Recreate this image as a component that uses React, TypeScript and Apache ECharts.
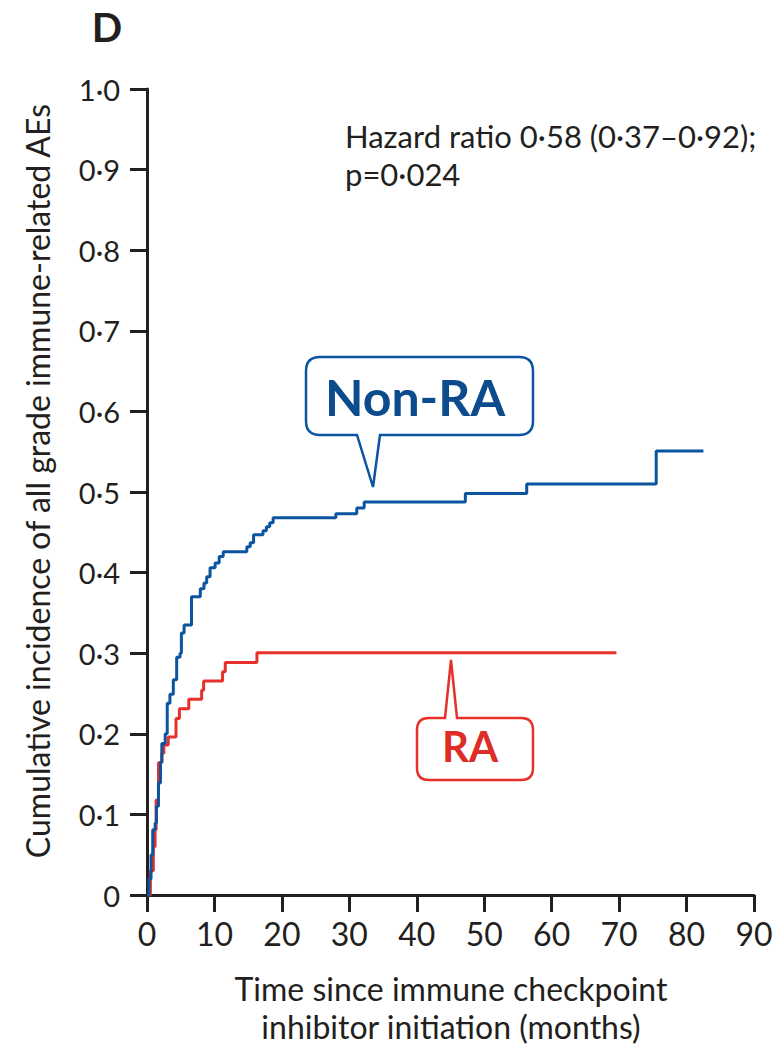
import React, { useEffect, useRef } from "react";
import * as echarts from "echarts";

const blueTimes = [0, 0.3, 0.6, 0.85, 1.2, 1.4, 1.7, 2.0, 2.2, 2.7, 3.0, 3.4, 3.9, 4.4, 4.9, 5.1, 5.5, 6.6, 7.9, 8.45, 8.85, 9.35, 10.1, 10.7, 11.3, 14.8, 15.3, 15.8, 17.2, 17.7, 18.2, 18.7, 28.0, 31.1, 32.2, 47.2, 56.3, 75.5, 82.5];
const blueValues = [0, 0.02, 0.05, 0.081, 0.089, 0.11, 0.139, 0.165, 0.188, 0.2, 0.238, 0.249, 0.267, 0.295, 0.3, 0.325, 0.335, 0.37, 0.38, 0.387, 0.395, 0.406, 0.412, 0.42, 0.426, 0.432, 0.437, 0.447, 0.452, 0.457, 0.462, 0.468, 0.473, 0.48, 0.4876, 0.498, 0.51, 0.551, 0.551];

const redTimes = [0, 0.5, 0.94, 1.2, 1.35, 1.7, 2.2, 2.5, 3.15, 4.3, 4.8, 6.2, 8.1, 8.4, 11.2, 11.6, 16.3, 69.6];
const redValues = [0, 0.03, 0.06, 0.081, 0.118, 0.164, 0.176, 0.186, 0.196, 0.219, 0.231, 0.243, 0.254, 0.2655, 0.277, 0.2886, 0.3006, 0.3006];

const yTickLabels = ["0", "0·1", "0·2", "0·3", "0·4", "0·5", "0·6", "0·7", "0·8", "0·9", "1·0"];
const xTickLabels = ["0", "10", "20", "30", "40", "50", "60", "70", "80", "90"];

const xTitleLines = ["Time since immune checkpoint", "inhibitor initiation (months)"];
const yTitle = "Cumulative incidence of all grade immune-related AEs";
const statLines = ["Hazard ratio 0·58 (0·37–0·92);", "p=0·024"];

const FONT = "Lato, 'Noto Sans', sans-serif";
const AXIS_COLOR = "#231f20";
const BLUE = "#0b55a0";
const RED = "#e8302a";

echarts.graphic.registerShape(
  "calloutNonRA",
  echarts.graphic.extendPath(
    "M 320 357 L 519 357 Q 533 357 533 371 L 533 421 Q 533 435 519 435 L 380 435 L 373 487 L 357 435 L 320 435 Q 306 435 306 421 L 306 371 Q 306 357 320 357 Z",
    {}
  )
);
echarts.graphic.registerShape(
  "calloutRA",
  echarts.graphic.extendPath(
    "M 429 718 L 445 718 L 451 660 L 457 718 L 521 718 Q 533 718 533 730 L 533 768 Q 533 780 521 780 L 429 780 Q 417 780 417 768 L 417 730 Q 417 718 429 718 Z",
    {}
  )
);

function txt(text: string, x: number, y: number, font: string, fill: string, align: string, extra: any = {}) {
  return {
    type: "text",
    x,
    y,
    ...extra,
    style: {
      text,
      font,
      fill,
      textAlign: align,
      textVerticalAlign: "middle",
      align,
      verticalAlign: "middle",
    },
  };
}

export default function App() {
  const ref = useRef<HTMLDivElement>(null);
  useEffect(() => {
    document.body.style.margin = "0";
    const chart = echarts.init(ref.current!, undefined, { renderer: "svg" });
    const blueData = blueTimes.map((t, i) => [t, blueValues[i]]);
    const redData = redTimes.map((t, i) => [t, redValues[i]]);
    chart.setOption({
      animation: false,
      backgroundColor: "#ffffff",
      grid: { left: 147, top: 89, width: 607, height: 806, containLabel: false },
      xAxis: {
        type: "value",
        min: 0,
        max: 90,
        interval: 10,
        axisLine: { show: true, lineStyle: { color: AXIS_COLOR, width: 3 } },
        axisTick: { show: true, length: 17, lineStyle: { color: AXIS_COLOR, width: 3 } },
        axisLabel: {
          margin: 22,
          fontFamily: FONT,
          fontSize: 32,
          color: AXIS_COLOR,
          formatter: (v: number) => xTickLabels[Math.round(v / 10)] ?? "",
        },
        splitLine: { show: false },
      },
      yAxis: {
        type: "value",
        min: 0,
        max: 1,
        interval: 0.1,
        axisLine: { show: true, lineStyle: { color: AXIS_COLOR, width: 3 } },
        axisTick: { show: true, length: 17, lineStyle: { color: AXIS_COLOR, width: 3 } },
        axisLabel: {
          margin: 27,
          fontFamily: FONT,
          fontSize: 29,
          color: AXIS_COLOR,
          formatter: (v: number) => yTickLabels[Math.round(v * 10)] ?? "",
        },
        splitLine: { show: false },
      },
      series: [
        {
          type: "line",
          name: "Non-RA",
          data: blueData,
          step: "end",
          showSymbol: false,
          lineStyle: { color: BLUE, width: 3 },
          z: 3,
        },
        {
          type: "line",
          name: "RA",
          data: redData,
          step: "end",
          showSymbol: false,
          lineStyle: { color: RED, width: 3 },
          z: 2,
        },
      ],
      graphic: [
        txt("D", 107, 27, `bold 40px ${FONT}`, AXIS_COLOR, "center"),
        txt(statLines[0], 345, 136, `31px ${FONT}`, AXIS_COLOR, "left"),
        txt(statLines[1], 345, 174, `31px ${FONT}`, AXIS_COLOR, "left"),
        txt(xTitleLines[0], 451, 988, `32px ${FONT}`, AXIS_COLOR, "center"),
        txt(xTitleLines[1], 451, 1026, `32px ${FONT}`, AXIS_COLOR, "center"),
        txt(yTitle, 37, 481, `32px ${FONT}`, AXIS_COLOR, "center", { rotation: Math.PI / 2 }),
        {
          type: "calloutNonRA",
          x: 0,
          y: 0,
          style: { fill: "#ffffff", stroke: BLUE, lineWidth: 2.5 },
          z: 10,
        },
        { ...txt("Non-RA", 415, 397, `bold 50px ${FONT}`, "#0d4c8c", "center"), z: 11 },
        {
          type: "calloutRA",
          x: 0,
          y: 0,
          style: { fill: "#ffffff", stroke: RED, lineWidth: 2.5 },
          z: 10,
        },
        { ...txt("RA", 470, 746, `bold 42px ${FONT}`, "#de2c26", "center"), z: 11 },
      ],
    });
    return () => chart.dispose();
  }, []);
  return <div ref={ref} style={{ width: 776, height: 1048 }} />;
}
